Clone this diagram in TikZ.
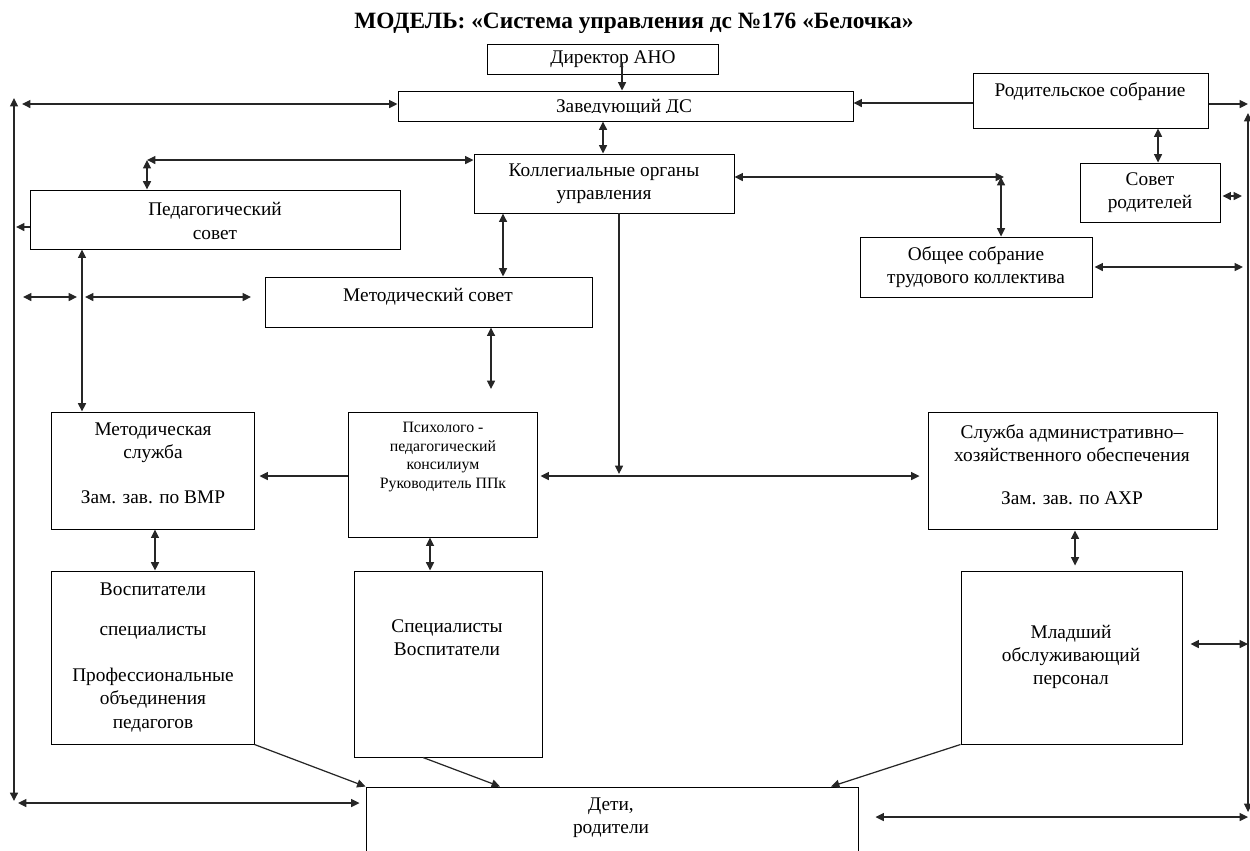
\documentclass[tikz,border=0pt]{standalone}
\usepackage{fontspec}
\setmainfont{Liberation Serif}
\usetikzlibrary{arrows.meta,fit}
\begin{document}
\begin{tikzpicture}[x=0.02cm,y=-0.02cm,
  box/.style={draw, line width=0.55pt, inner sep=0pt},
  txt/.style={align=center, inner sep=0pt, font=\fontsize{11}{13.2}\selectfont},
  smalltxt/.style={align=center, inner sep=0pt, font=\fontsize{9}{10.6}\selectfont},
  con/.style={line width=0.7pt, draw=black!85},
  ar/.style={con, -{Triangle[length=4.8pt,width=4.6pt]}},
  dar/.style={con, {Triangle[length=4.8pt,width=4.6pt]}-{Triangle[length=4.8pt,width=4.6pt]}},
]
\useasboundingbox (0,0) rectangle (1250,850);

% title
\node[inner sep=0pt, font=\fontsize{13.3}{16}\selectfont\bfseries] (title) at (634,23) {МОДЕЛЬ: «Система управления дс №176 «Белочка»};

% boxes
\node[box, fit={(487,44)(718,74)}] (dir) {};
\node[txt] (dirt) at (613,59) {Директор АНО};
\node[box, fit={(398,91)(853,121)}] (zav) {};
\begin{scope}
  \clip (400,92) rectangle (850,112.6);
  \node[txt, anchor=base] (zavt) at (624,112) {Заведующий ДС};
\end{scope}
\node[box, fit={(973,73)(1208,128)}] (rod) {};
\node[txt] (rodt) at (1090,92) {Родительское собрание};
\node[box, fit={(1080,163)(1220,222)}] (sov) {};
\node[txt] (sovt) at (1150,193) {Совет\\родителей};
\node[box, fit={(474,154)(734,213)}] (koll) {};
\node[txt] (kollt) at (604,184) {Коллегиальные органы\\управления};
\node[box, fit={(30,190)(400,249)}] (ped) {};
\node[txt] (pedt) at (215,221) {Педагогический\\совет};
\node[box, fit={(860,237)(1092,297)}] (obs) {};
\node[txt] (obst) at (976,267) {Общее собрание\\трудового коллектива};
\node[box, fit={(265,277)(592,327)}] (met) {};
\node[txt] (mett) at (428,297) {Методический совет};
\node[box, fit={(51,412)(254,529)}] (msl) {};
\node[txt] (mslt) at (153,443) {Методическая\\служба};
\node[txt] (mslz) at (153,497) {Зам. зав. по ВМР};
\node[box, fit={(348,412)(537,537)}] (psy) {};
\node[smalltxt] (psyt) at (443,457) {Психолого -\\педагогический\\консилиум\\Руководитель ППк};
\node[box, fit={(928,412)(1217,529)}] (axo) {};
\node[txt] (axot) at (1072,443) {Служба административно–\\хозяйственного обеспечения};
\node[txt] (axoz) at (1072,498) {Зам. зав. по АХР};
\node[box, fit={(51,571)(254,744)}] (vos) {};
\node[txt] (vost1) at (153,589) {Воспитатели};
\node[txt] (vost2) at (153,633) {специалисты};
\node[txt] (vost3) at (153,700) {Профессиональные\\объединения\\педагогов};
\node[box, fit={(354,571)(542,757)}] (spe) {};
\node[txt] (spet) at (447,638) {Специалисты\\Воспитатели};
\node[box, fit={(961,571)(1182,744)}] (mld) {};
\node[txt] (mldt) at (1071,657) {Младший\\обслуживающий\\персонал};
\node[box, fit={(366,787)(858,856)}] (det) {};
\node[txt] (dett) at (611,818) {Дети,\\родители};

% free ends
\coordinate (d0) at (622,62);
\coordinate (L1) at (22,104);
\coordinate (LV1) at (14,98);
\coordinate (LV2) at (14,801);
\coordinate (P1) at (16,227);
\coordinate (K1) at (147,160);
\coordinate (K2) at (1004,177);
\coordinate (K3) at (1001,177);
\coordinate (S1) at (23,297);
\coordinate (S2) at (77,297);
\coordinate (S3) at (85,297);
\coordinate (S4) at (251,297);
\coordinate (M1) at (491,389);
\coordinate (J1) at (619,474);
\coordinate (R1) at (1248,644);
\coordinate (LB) at (18,803);
\coordinate (RB) at (1248,817);
\coordinate (R2) at (1248,104);
\coordinate (RV1) at (1248,113);
\coordinate (RV2) at (1248,812);
\coordinate (R3) at (1242,196);
\coordinate (R4) at (1243,267);

% connectors
\draw[ar] (d0) -- (d0 |- zav.north);
\draw[dar] (zav.south -| 603,0) -- (koll.north -| 603,0);
\draw[ar] (rod.west |- 0,103) -- (zav.east |- 0,103);
\draw[dar] (zav.west |- 0,104) -- (L1);
\draw[dar] (LV1) -- (LV2);
\draw[ar] (ped.west |- 0,227) -- (P1);
\draw[dar] (koll.west |- 0,160) -- (K1);
\draw[dar] (K1) -- (K1 |- ped.north);
\draw[dar] (koll.east |- 0,177) -- (K2);
\draw[dar] (K3) -- (K3 |- obs.north);
\draw[dar] (koll.south -| 503,0) -- (met.north -| 503,0);
\draw[dar] (ped.south -| 82,0) -- (msl.north -| 82,0);
\draw[dar] (S1) -- (S2);
\draw[dar] (S3) -- (S4);
\draw[dar] (met.south -| 491,0) -- (M1);
\draw[ar] (koll.south -| 619,0) -- (J1);
\draw[dar, shorten <=0.06cm, shorten >=0.16cm] (psy.east |- 0,476) -- (axo.west |- 0,476);
\draw[ar, shorten >=0.1cm] (psy.west |- 0,476) -- (msl.east |- 0,476);
\draw[dar] (msl.south -| 155,0) -- (vos.north -| 155,0);
\draw[dar] (psy.south -| 430,0) -- (spe.north -| 430,0);
\draw[dar, shorten <=0.02cm, shorten >=0.1cm] (axo.south -| 1075,0) -- (mld.north -| 1075,0);
\draw[dar, shorten <=0.16cm] (mld.east |- 0,644) -- (R1);
\draw[ar] (vos.south east) -- (det.north west);
\draw[ar] (spe.south -| 423,0) -- (det.north -| 500,0);
\draw[ar] (mld.south west) -- (det.north -| 831,0);
\draw[dar, shorten >=0.12cm] (LB) -- (det.west |- 0,803);
\draw[dar, shorten <=0.34cm] (det.east |- 0,817) -- (RB);
\draw[ar] (rod.east |- 0,104) -- (R2);
\draw[dar] (RV1) -- (RV2);
\draw[dar] (rod.south -| 1158,0) -- (sov.north -| 1158,0);
\draw[dar, shorten <=0.04cm] (sov.east |- 0,196) -- (R3);
\draw[dar, shorten <=0.04cm] (obs.east |- 0,267) -- (R4);
\end{tikzpicture}
\end{document}
